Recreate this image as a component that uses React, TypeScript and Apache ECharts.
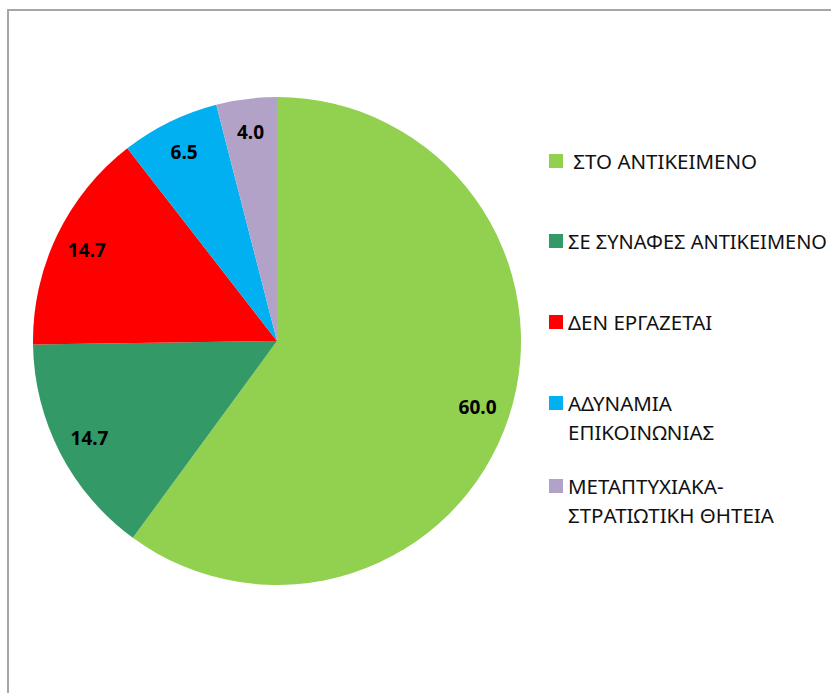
import React, { useEffect, useRef } from "react";
import * as echarts from "echarts";

const categories = [
  "ΣΤΟ ΑΝΤΙΚΕΙΜΕΝΟ",
  "ΣΕ ΣΥΝΑΦΕΣ ΑΝΤΙΚΕΙΜΕΝΟ",
  "ΔΕΝ ΕΡΓΑΖΕΤΑΙ",
  "ΑΔΥΝΑΜΙΑ ΕΠΙΚΟΙΝΩΝΙΑΣ",
  "ΜΕΤΑΠΤΥΧΙΑΚΑ-ΣΤΡΑΤΙΩΤΙΚΗ ΘΗΤΕΙΑ",
];
const legendLabels = [
  " ΣΤΟ ΑΝΤΙΚΕΙΜΕΝΟ",
  "ΣΕ ΣΥΝΑΦΕΣ ΑΝΤΙΚΕΙΜΕΝΟ",
  "ΔΕΝ ΕΡΓΑΖΕΤΑΙ",
  "ΑΔΥΝΑΜΙΑ\nΕΠΙΚΟΙΝΩΝΙΑΣ",
  "ΜΕΤΑΠΤΥΧΙΑΚΑ-\nΣΤΡΑΤΙΩΤΙΚΗ ΘΗΤΕΙΑ",
];
const values = [60.0, 14.7, 14.7, 6.5, 4.0];
const colors = ["#92d050", "#339966", "#ff0000", "#00b0f0", "#b3a2c7"];

// layout: legend icon centre y for each item
const legendCenters = [161, 241, 322, 403, 486];

export default function App() {
  const ref = useRef<HTMLDivElement>(null);
  useEffect(() => {
    if (!ref.current) return;
    const chart = echarts.init(ref.current, undefined, { renderer: "svg" });
    const data = categories.map((c, i) => ({
      name: c,
      value: values[i],
      itemStyle: { color: colors[i] },
    }));
    const LH = 29;
    const legends = categories.map((c, i) => {
      const twoLine = legendLabels[i].includes("\n");
      return {
        show: true,
        orient: "vertical",
        left: 549,
        top: twoLine ? legendCenters[i] - LH * 1.5 : legendCenters[i] - LH / 2,
        padding: 0,
        itemWidth: 14,
        itemHeight: 14,
        icon: "rect",
        selectedMode: false,
        data: [c],
        // an empty first line keeps the icon level with the first text line
        formatter: () => (twoLine ? "\n" + legendLabels[i] : legendLabels[i]),
        textStyle: {
          fontFamily: "Noto Sans",
          fontSize: i === 1 ? 20 : 20.5,
          color: "#111111",
          lineHeight: LH,
        },
      };
    });
    chart.setOption({
      animation: false,
      backgroundColor: "#ffffff",
      legend: legends,
      graphic: [
        {
          type: "rect",
          shape: { x: 8, y: 10, width: 1000, height: 1000 },
          style: { fill: "none", stroke: "#a6a6a6", lineWidth: 2 },
          silent: true,
        },
      ],
      series: [
        {
          type: "pie",
          center: [277, 341],
          radius: 244,
          startAngle: 90,
          clockwise: true,
          label: { show: false },
          labelLine: { show: false },
          emphasis: { disabled: true },
          data,
        },
        {
          type: "pie",
          center: [277, 341],
          radius: [172, 244],
          startAngle: 90,
          clockwise: true,
          silent: true,
          itemStyle: { color: "rgba(0,0,0,0)" },
          emphasis: { disabled: true },
          labelLine: { show: false },
          label: {
            show: true,
            position: "inside",
            formatter: (p: any) => values[p.dataIndex].toFixed(1),
            fontFamily: "Noto Sans",
            fontWeight: "bold",
            fontSize: 19,
            color: "#000000",
            textBorderWidth: 0,
          },
          data: categories.map((c, i) => ({
            name: c,
            value: values[i],
            itemStyle: { color: "rgba(0,0,0,0)" },
          })),
        },
      ],
    });
    return () => chart.dispose();
  }, []);
  return (
    <div
      ref={ref}
      style={{ position: "absolute", left: 0, top: 0, width: 831, height: 693 }}
    />
  );
}
